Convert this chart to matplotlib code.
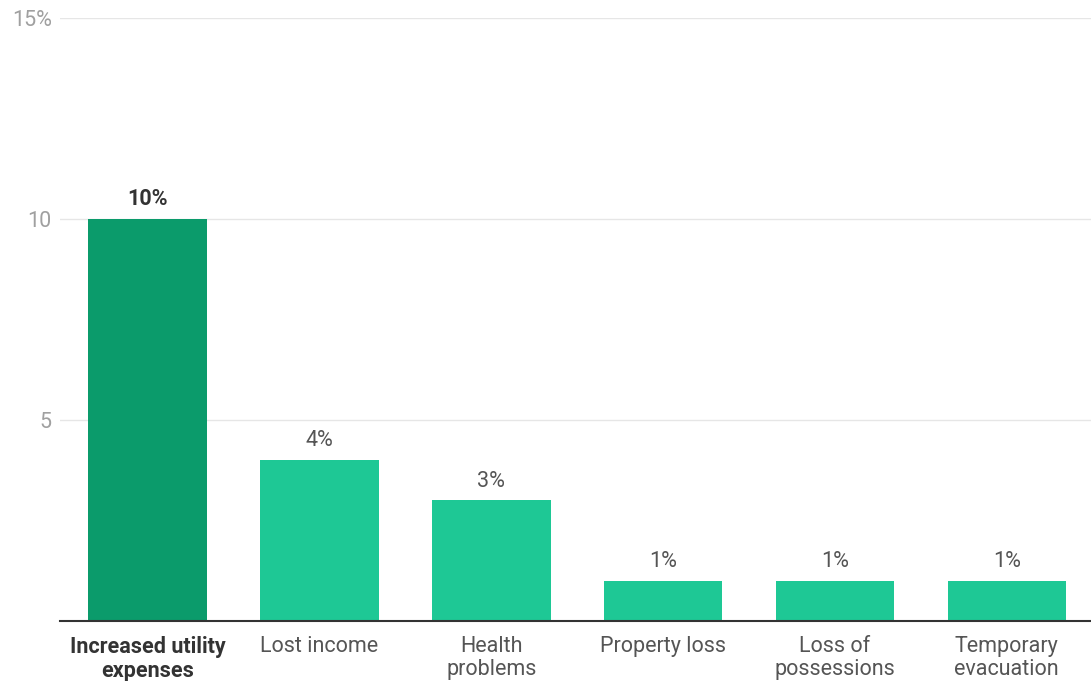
import matplotlib.pyplot as plt

categories = ["Increased utility\nexpenses", "Lost income", "Health\nproblems",
              "Property loss", "Loss of\npossessions", "Temporary\nevacuation"]
values = [10, 4, 3, 1, 1, 1]
yticks = [5, 10, 15]
ytick_labels = ["5", "10", "15%"]

plt.rcParams['font.family'] = ['Roboto', 'DejaVu Sans']

fig = plt.figure(figsize=(10.91, 6.81), dpi=100)
ax = fig.add_axes([0.055, 0.0881, 0.945, 0.8855])

colors = ["#0b9b6b"] + ["#1ec895"] * (len(values) - 1)
x = list(range(len(values)))
ax.bar(x, values, width=0.69, color=colors, zorder=2)

for i, v in enumerate(values):
    ax.text(i, v + 0.22, f"{v}%", ha="center", va="bottom", fontsize=15.5,
            color="#333333" if i == 0 else "#555555",
            fontweight="bold" if i == 0 else "normal")

ax.set_xlim(-0.51, 5.49)
ax.set_ylim(0, 15)
ax.set_yticks(yticks)
ax.set_yticklabels(ytick_labels)
ax.set_xticks(x)
ax.set_xticklabels(categories)
ax.grid(axis="y", color="#e6e6e6", linewidth=1, zorder=0)

for s in ["top", "right", "left"]:
    ax.spines[s].set_visible(False)
ax.spines["bottom"].set_color("#333333")
ax.spines["bottom"].set_linewidth(1.5)
ax.spines["bottom"].set_zorder(3)

ax.tick_params(axis="y", length=0, pad=6, labelsize=15.5, labelcolor="#a0a0a0")
ax.tick_params(axis="x", length=0, pad=11, labelsize=15.5, labelcolor="#555555")
for lbl in ax.get_xticklabels():
    lbl.set_linespacing(1.12)
ax.get_xticklabels()[0].set_fontweight("bold")
ax.get_xticklabels()[0].set_color("#333333")

fig.savefig("out.png", dpi=100)
